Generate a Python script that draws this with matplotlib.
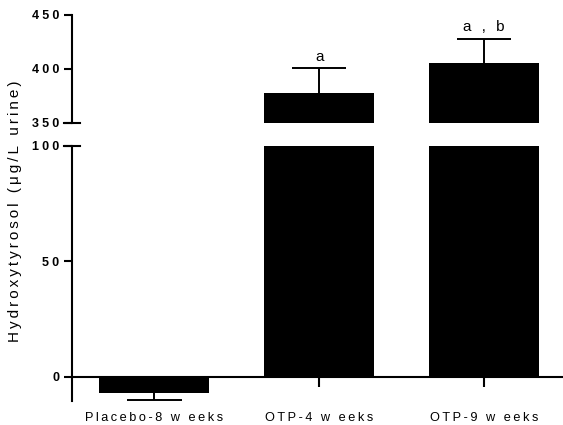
import matplotlib.pyplot as plt
from matplotlib.ticker import FuncFormatter

# data
groups = ['Placebo-8 w eeks', 'OTP-4 w eeks', 'OTP-9 w eeks']
means = [-7, 378, 406]
errors = [-3, 23, 22]   # one-sided: negative bar gets its error bar downwards
letters = ['', 'a', 'a , b']

plt.rcParams['font.family'] = ['Liberation Sans', 'DejaVu Sans']

THIN = '\u2009'


def spaced(s, sep):
    # the reference text is drawn with wide letter spacing
    return sep.join(s)


fig = plt.figure(figsize=(5.63, 4.25), dpi=100)
ax_top = fig.add_axes([72 / 563, 0.7106, 491 / 563, 108 / 425])
ax_bot = fig.add_axes([72 / 563, 24 / 425, 491 / 563, 255 / 425])

x = list(range(len(groups)))
ends = [m + e for m, e in zip(means, errors)]
for ax in (ax_top, ax_bot):
    ax.bar(x, means, width=0.667, color='black', zorder=1)
    ax.vlines(x, means, ends, color='black', lw=1.4, zorder=2)
    ax.hlines(ends, [xi - 0.165 for xi in x], [xi + 0.165 for xi in x],
              color='black', lw=1.4, zorder=2)
    ax.set_xlim(-0.5, 2.48)
    for s in ('top', 'right'):
        ax.spines[s].set_visible(False)
    ax.spines['left'].set_linewidth(1.5)
    ax.tick_params(axis='y', direction='out', length=6, width=1.5, pad=3,
                   labelsize=9)
    ax.yaxis.set_major_formatter(FuncFormatter(
        lambda v, p: spaced('%d' % v, '\u2005')))

# top segment
ax_top.set_ylim(350, 450)
ax_top.set_yticks([350, 400, 450])
ax_top.spines['bottom'].set_visible(False)
ax_top.set_xticks([])
for xi, end, t in zip(x, ends, letters):
    if t:
        ax_top.text(xi, end + 4, spaced(t, THIN), ha='center', va='bottom',
                    fontsize=11)

# bottom segment
ax_bot.set_ylim(-10.4, 100)
ax_bot.set_yticks([0, 50, 100])
ax_bot.spines['bottom'].set_position(('data', 0))
ax_bot.spines['bottom'].set_linewidth(1.5)
ax_bot.set_xticks(x)
ax_bot.set_xticklabels([spaced(g, THIN) for g in groups], fontsize=9.2)
ax_bot.tick_params(axis='x', direction='out', length=7, width=1.5, pad=18)

for ax in (ax_top, ax_bot):
    for lab in ax.get_yticklabels():
        lab.set_fontweight('bold')

# break marks: ticks crossing the spine at 350 and 100
ax_top.plot([-0.55, -0.45], [350, 350], color='black', lw=1.5,
            clip_on=False, zorder=3)
ax_bot.plot([-0.55, -0.45], [100, 100], color='black', lw=1.5,
            clip_on=False, zorder=3)

fig.text(15 / 563, 1 - 211 / 425, spaced('Hydroxytyrosol (μg/L urine)', THIN),
         rotation=90, ha='center', va='center', fontsize=11)

fig.savefig('out.png', dpi=100)
